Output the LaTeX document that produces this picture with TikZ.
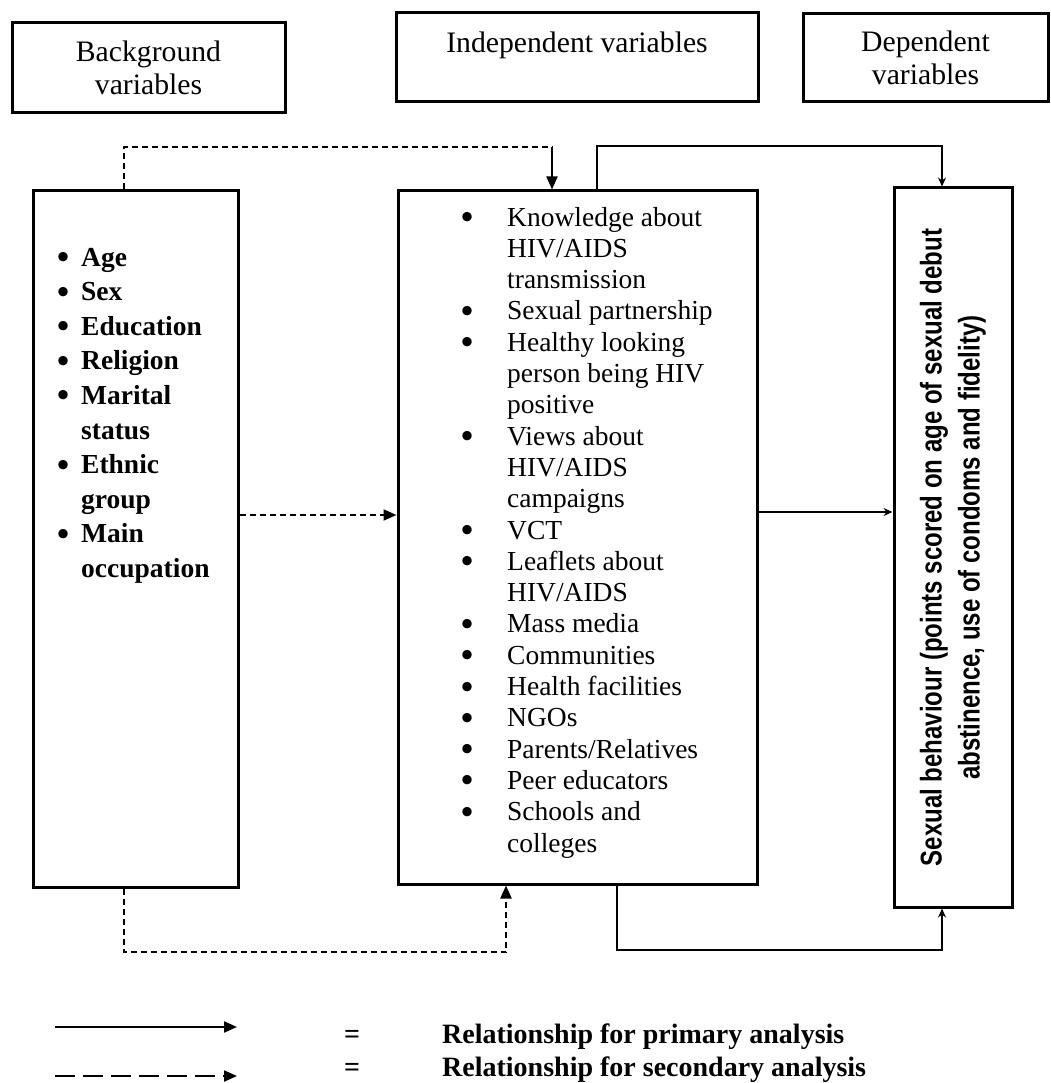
\documentclass[tikz,border=0pt]{standalone}
\usepackage{fontspec}
\setmainfont{Liberation Serif}
\newfontfamily\narrowsans{Liberation Sans}
\usetikzlibrary{arrows.meta,calc}
\newcommand\bigdot{\smash{\raisebox{-2.5pt}{\scalebox{1.25}{\bfseries •}}}}
\newcommand\lbulL{\makebox[24pt][l]{\bigdot}}
\newcommand\lbulM{\makebox[46pt][l]{\bigdot}}
\begin{document}
\begin{tikzpicture}[x=1pt,y=-1pt,
  box/.style={draw, line width=3pt, inner sep=0pt, align=center},
  hdrfont/.style={font=\fontsize{29.7}{33}\selectfont},
  prim/.style={line width=2pt},
  sec/.style={line width=2pt, dash pattern=on 6pt off 4pt},
  seclg/.style={line width=2.2pt, dash pattern=on 20pt off 8pt},
  tipT/.style={-{Triangle[length=13pt,width=11pt]}},
  tipS/.style={-{Stealth[length=9pt,width=8pt]}}]
\useasboundingbox (0,0) rectangle (1050,1083);

% header boxes
\node[box, hdrfont, minimum width=273pt, minimum height=90pt] (hdrB) at (148.5,68) {Background\\variables};
\node[box, minimum width=362pt, minimum height=89pt] (hdrI) at (577,57.5) {};
\node[hdrfont, inner sep=0pt] (hdrIt) at (577,45) {Independent variables};
\node[box, hdrfont, minimum width=245pt, minimum height=88pt] (hdrD) at (925.5,58) {Dependent\\variables};

% main boxes
\node[box, minimum width=205pt, minimum height=696pt] (L) at (135.5,539) {};
\node[box, minimum width=359pt, minimum height=693pt] (M) at (577.5,537.5) {};
\node[box, minimum width=118pt, minimum height=719pt] (R) at (953,547.5) {};

% lists
\node[anchor=base west, inner sep=0pt, font=\fontsize{27.5}{34.6}\selectfont\bfseries] (Llist) at (57,266)
{\begin{tabular}[t]{@{}l@{}}
\lbulL Age\\
\lbulL Sex\\
\lbulL Education\\
\lbulL Religion\\
\lbulL Marital\\
\hspace*{24pt}status\\
\lbulL Ethnic\\
\hspace*{24pt}group\\
\lbulL Main\\
\hspace*{24pt}occupation
\end{tabular}};

\node[anchor=base west, inner sep=0pt, font=\fontsize{27.5}{31.3}\selectfont] (Mlist) at (461,226)
{\begin{tabular}[t]{@{}l@{}}
\lbulM Knowledge about\\
\hspace*{46pt}HIV/AIDS\\
\hspace*{46pt}transmission\\
\lbulM Sexual partnership\\
\lbulM Healthy looking\\
\hspace*{46pt}person being HIV\\
\hspace*{46pt}positive\\
\lbulM Views about\\
\hspace*{46pt}HIV/AIDS\\
\hspace*{46pt}campaigns\\
\lbulM VCT\\
\lbulM Leaflets about\\
\hspace*{46pt}HIV/AIDS\\
\lbulM Mass media\\
\lbulM Communities\\
\lbulM Health facilities\\
\lbulM NGOs\\
\lbulM Parents/Relatives\\
\lbulM Peer educators\\
\lbulM Schools and\\
\hspace*{46pt}colleges
\end{tabular}};

\node[rotate=90, inner sep=0pt] (Rtext) at (R.center)
{\scalebox{0.8}[1]{\fontsize{30}{38}\selectfont\narrowsans\bfseries
\begin{tabular}{@{}c@{}}Sexual behaviour (points scored on age of sexual debut\\abstinence, use of condoms and fidelity)\end{tabular}}};

% bend coordinates
\coordinate (c1) at (124,147);
\coordinate (c2) at (552,147);
\coordinate (c3) at (597,146);
\coordinate (c4) at (942,146);
\coordinate (c5) at (124,952);
\coordinate (c6) at (506,952);
\coordinate (c7) at (617,950);
\coordinate (c8) at (942,950);
\coordinate (c9) at (0,515);
\coordinate (c10) at (0,512);

% connectors
\draw[sec] (L.north -| c1) -- (c1) -- (c2);
\draw[prim, tipT] (c2) -- (M.north -| c2);
\draw[sec, tipT] (L.east |- c9) -- (M.west |- c9);
\draw[prim, tipS] (M.east |- c10) -- (R.west |- c10);
\draw[prim, tipS] (M.north -| c3) -- (c3) -- (c4) -- (R.north -| c4);
\draw[prim, tipS] (M.south -| c7) -- (c7) -- (c8) -- (R.south -| c8);
\draw[sec, tipT] (L.south -| c5) -- (c5) -- (c6) -- (M.south -| c6);

% legend
\coordinate (lg1a) at (55,1027);
\coordinate (lg1b) at (237,1027);
\coordinate (lg2a) at (55,1076);
\coordinate (lg2b) at (237,1076);
\draw[prim, line width=2.2pt, tipT] (lg1a) -- (lg1b);
\draw[seclg, tipT] (lg2a) -- (lg2b);
\node[font=\fontsize{28}{30}\selectfont\bfseries, inner sep=0pt] (eq1) at (352,1037) {=};
\node[font=\fontsize{28}{30}\selectfont\bfseries, inner sep=0pt] (eq2) at (352,1070) {=};
\node[font=\fontsize{28}{30}\selectfont\bfseries, inner sep=0pt, anchor=west] (lt1) at (442,1037) {Relationship for primary analysis};
\node[font=\fontsize{28}{30}\selectfont\bfseries, inner sep=0pt, anchor=west] (lt2) at (442,1070) {Relationship for secondary analysis};
\end{tikzpicture}
\end{document}
